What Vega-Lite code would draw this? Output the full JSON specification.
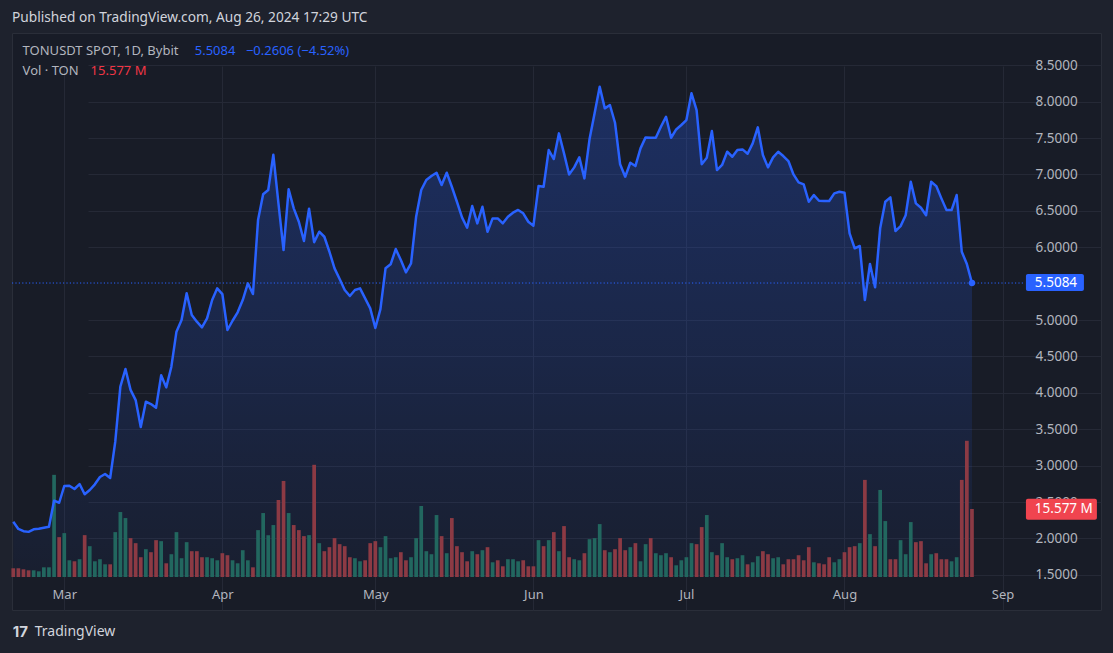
{
  "$schema": "https://vega.github.io/schema/vega-lite/v6.json",
  "width": 1089,
  "height": 577,
  "autosize": {"type": "none"},
  "padding": {"left": 12, "top": 33, "right": 12, "bottom": 43},
  "background": "#1e222d",
  "config": {
    "font": "Noto Sans",
    "view": {"fill": "#181c27", "stroke": "#2a2e39", "strokeWidth": 1},
    "text": {"font": "Noto Sans"}
  },
  "title": {
    "text": "Published on TradingView.com, Aug 26, 2024 17:29 UTC",
    "anchor": "start",
    "frame": "group",
    "baseline": "alphabetic",
    "offset": 10,
    "dy": 13,
    "fontSize": 13.7,
    "fontWeight": "normal",
    "color": "#d1d4dc",
    "font": "Noto Sans"
  },
  "datasets": {
    "ton": [
      {"date":"2024-02-20","close":2.230,"volume":2.00,"dir":"down"},
      {"date":"2024-02-21","close":2.130,"volume":2.00,"dir":"down"},
      {"date":"2024-02-22","close":2.100,"volume":1.76,"dir":"down"},
      {"date":"2024-02-23","close":2.090,"volume":1.53,"dir":"down"},
      {"date":"2024-02-24","close":2.125,"volume":1.53,"dir":"up"},
      {"date":"2024-02-25","close":2.133,"volume":1.30,"dir":"up"},
      {"date":"2024-02-26","close":2.147,"volume":2.22,"dir":"up"},
      {"date":"2024-02-27","close":2.161,"volume":2.22,"dir":"up"},
      {"date":"2024-02-28","close":2.518,"volume":23.40,"dir":"up"},
      {"date":"2024-02-29","close":2.490,"volume":9.13,"dir":"down"},
      {"date":"2024-03-01","close":2.720,"volume":10.05,"dir":"up"},
      {"date":"2024-03-02","close":2.724,"volume":3.83,"dir":"up"},
      {"date":"2024-03-03","close":2.679,"volume":3.60,"dir":"down"},
      {"date":"2024-03-04","close":2.747,"volume":4.07,"dir":"up"},
      {"date":"2024-03-05","close":2.606,"volume":9.59,"dir":"down"},
      {"date":"2024-03-06","close":2.665,"volume":7.06,"dir":"up"},
      {"date":"2024-03-07","close":2.743,"volume":3.60,"dir":"up"},
      {"date":"2024-03-08","close":2.843,"volume":4.07,"dir":"up"},
      {"date":"2024-03-09","close":2.885,"volume":2.91,"dir":"up"},
      {"date":"2024-03-10","close":2.830,"volume":2.91,"dir":"down"},
      {"date":"2024-03-11","close":3.329,"volume":10.28,"dir":"up"},
      {"date":"2024-03-12","close":4.084,"volume":14.88,"dir":"up"},
      {"date":"2024-03-13","close":4.327,"volume":13.50,"dir":"up"},
      {"date":"2024-03-14","close":4.040,"volume":8.90,"dir":"down"},
      {"date":"2024-03-15","close":3.900,"volume":7.75,"dir":"down"},
      {"date":"2024-03-16","close":3.530,"volume":4.53,"dir":"down"},
      {"date":"2024-03-17","close":3.878,"volume":6.37,"dir":"up"},
      {"date":"2024-03-18","close":3.846,"volume":5.68,"dir":"down"},
      {"date":"2024-03-19","close":3.796,"volume":8.44,"dir":"down"},
      {"date":"2024-03-20","close":4.240,"volume":8.21,"dir":"up"},
      {"date":"2024-03-21","close":4.075,"volume":3.14,"dir":"down"},
      {"date":"2024-03-22","close":4.359,"volume":5.22,"dir":"up"},
      {"date":"2024-03-23","close":4.840,"volume":10.28,"dir":"up"},
      {"date":"2024-03-24","close":5.000,"volume":4.30,"dir":"up"},
      {"date":"2024-03-25","close":5.367,"volume":7.98,"dir":"up"},
      {"date":"2024-03-26","close":5.069,"volume":5.91,"dir":"down"},
      {"date":"2024-03-27","close":4.977,"volume":5.91,"dir":"down"},
      {"date":"2024-03-28","close":4.900,"volume":4.53,"dir":"down"},
      {"date":"2024-03-29","close":5.023,"volume":4.53,"dir":"up"},
      {"date":"2024-03-30","close":5.275,"volume":4.30,"dir":"up"},
      {"date":"2024-03-31","close":5.435,"volume":3.83,"dir":"up"},
      {"date":"2024-04-01","close":5.357,"volume":5.45,"dir":"down"},
      {"date":"2024-04-02","close":4.863,"volume":4.99,"dir":"down"},
      {"date":"2024-04-03","close":4.990,"volume":3.83,"dir":"up"},
      {"date":"2024-04-04","close":5.106,"volume":3.14,"dir":"up"},
      {"date":"2024-04-05","close":5.275,"volume":6.14,"dir":"up"},
      {"date":"2024-04-06","close":5.504,"volume":3.83,"dir":"up"},
      {"date":"2024-04-07","close":5.357,"volume":2.22,"dir":"down"},
      {"date":"2024-04-08","close":6.373,"volume":10.74,"dir":"up"},
      {"date":"2024-04-09","close":6.727,"volume":14.65,"dir":"up"},
      {"date":"2024-04-10","close":6.786,"volume":9.59,"dir":"up"},
      {"date":"2024-04-11","close":7.270,"volume":11.90,"dir":"up"},
      {"date":"2024-04-12","close":6.603,"volume":17.64,"dir":"down"},
      {"date":"2024-04-13","close":5.961,"volume":22.00,"dir":"down"},
      {"date":"2024-04-14","close":6.795,"volume":14.65,"dir":"up"},
      {"date":"2024-04-15","close":6.534,"volume":11.90,"dir":"down"},
      {"date":"2024-04-16","close":6.350,"volume":10.74,"dir":"down"},
      {"date":"2024-04-17","close":6.085,"volume":9.36,"dir":"down"},
      {"date":"2024-04-18","close":6.530,"volume":9.59,"dir":"up"},
      {"date":"2024-04-19","close":6.070,"volume":25.70,"dir":"down"},
      {"date":"2024-04-20","close":6.213,"volume":7.75,"dir":"up"},
      {"date":"2024-04-21","close":6.144,"volume":5.91,"dir":"down"},
      {"date":"2024-04-22","close":5.938,"volume":6.83,"dir":"down"},
      {"date":"2024-04-23","close":5.710,"volume":8.90,"dir":"down"},
      {"date":"2024-04-24","close":5.563,"volume":7.52,"dir":"down"},
      {"date":"2024-04-25","close":5.412,"volume":7.06,"dir":"down"},
      {"date":"2024-04-26","close":5.330,"volume":4.53,"dir":"down"},
      {"date":"2024-04-27","close":5.412,"volume":4.30,"dir":"up"},
      {"date":"2024-04-28","close":5.435,"volume":3.60,"dir":"up"},
      {"date":"2024-04-29","close":5.298,"volume":3.83,"dir":"down"},
      {"date":"2024-04-30","close":5.160,"volume":7.75,"dir":"down"},
      {"date":"2024-05-01","close":4.890,"volume":8.21,"dir":"down"},
      {"date":"2024-05-02","close":5.150,"volume":6.83,"dir":"up"},
      {"date":"2024-05-03","close":5.710,"volume":9.36,"dir":"up"},
      {"date":"2024-05-04","close":5.765,"volume":4.30,"dir":"up"},
      {"date":"2024-05-05","close":5.975,"volume":4.53,"dir":"up"},
      {"date":"2024-05-06","close":5.824,"volume":5.68,"dir":"down"},
      {"date":"2024-05-07","close":5.655,"volume":3.83,"dir":"down"},
      {"date":"2024-05-08","close":5.778,"volume":4.53,"dir":"up"},
      {"date":"2024-05-09","close":6.420,"volume":8.90,"dir":"up"},
      {"date":"2024-05-10","close":6.786,"volume":16.26,"dir":"up"},
      {"date":"2024-05-11","close":6.923,"volume":5.91,"dir":"up"},
      {"date":"2024-05-12","close":6.978,"volume":5.22,"dir":"up"},
      {"date":"2024-05-13","close":7.024,"volume":14.19,"dir":"up"},
      {"date":"2024-05-14","close":6.855,"volume":9.36,"dir":"down"},
      {"date":"2024-05-15","close":7.024,"volume":5.45,"dir":"up"},
      {"date":"2024-05-16","close":6.831,"volume":13.50,"dir":"down"},
      {"date":"2024-05-17","close":6.625,"volume":7.06,"dir":"down"},
      {"date":"2024-05-18","close":6.410,"volume":5.68,"dir":"down"},
      {"date":"2024-05-19","close":6.268,"volume":3.60,"dir":"down"},
      {"date":"2024-05-20","close":6.566,"volume":5.91,"dir":"up"},
      {"date":"2024-05-21","close":6.328,"volume":5.22,"dir":"down"},
      {"date":"2024-05-22","close":6.556,"volume":6.14,"dir":"up"},
      {"date":"2024-05-23","close":6.213,"volume":6.83,"dir":"down"},
      {"date":"2024-05-24","close":6.396,"volume":3.37,"dir":"up"},
      {"date":"2024-05-25","close":6.396,"volume":3.83,"dir":"down"},
      {"date":"2024-05-26","close":6.328,"volume":2.45,"dir":"down"},
      {"date":"2024-05-27","close":6.420,"volume":4.07,"dir":"up"},
      {"date":"2024-05-28","close":6.475,"volume":4.07,"dir":"up"},
      {"date":"2024-05-29","close":6.512,"volume":3.60,"dir":"up"},
      {"date":"2024-05-30","close":6.466,"volume":3.83,"dir":"down"},
      {"date":"2024-05-31","close":6.350,"volume":2.45,"dir":"down"},
      {"date":"2024-06-01","close":6.296,"volume":2.45,"dir":"down"},
      {"date":"2024-06-02","close":6.840,"volume":8.44,"dir":"up"},
      {"date":"2024-06-03","close":6.831,"volume":7.06,"dir":"down"},
      {"date":"2024-06-04","close":7.335,"volume":8.44,"dir":"up"},
      {"date":"2024-06-05","close":7.212,"volume":10.28,"dir":"down"},
      {"date":"2024-06-06","close":7.564,"volume":5.91,"dir":"up"},
      {"date":"2024-06-07","close":7.289,"volume":11.66,"dir":"down"},
      {"date":"2024-06-08","close":7.000,"volume":4.53,"dir":"down"},
      {"date":"2024-06-09","close":7.097,"volume":4.07,"dir":"up"},
      {"date":"2024-06-10","close":7.234,"volume":3.83,"dir":"up"},
      {"date":"2024-06-11","close":6.946,"volume":5.45,"dir":"down"},
      {"date":"2024-06-12","close":7.482,"volume":8.67,"dir":"up"},
      {"date":"2024-06-13","close":7.840,"volume":8.90,"dir":"up"},
      {"date":"2024-06-14","close":8.205,"volume":12.12,"dir":"up"},
      {"date":"2024-06-15","close":7.908,"volume":6.14,"dir":"down"},
      {"date":"2024-06-16","close":7.954,"volume":5.68,"dir":"up"},
      {"date":"2024-06-17","close":7.710,"volume":6.37,"dir":"down"},
      {"date":"2024-06-18","close":7.140,"volume":8.90,"dir":"down"},
      {"date":"2024-06-19","close":6.969,"volume":6.14,"dir":"down"},
      {"date":"2024-06-20","close":7.161,"volume":6.83,"dir":"up"},
      {"date":"2024-06-21","close":7.115,"volume":7.75,"dir":"down"},
      {"date":"2024-06-22","close":7.358,"volume":3.60,"dir":"up"},
      {"date":"2024-06-23","close":7.509,"volume":7.52,"dir":"up"},
      {"date":"2024-06-24","close":7.504,"volume":8.90,"dir":"down"},
      {"date":"2024-06-25","close":7.504,"volume":5.45,"dir":"up"},
      {"date":"2024-06-26","close":7.655,"volume":4.99,"dir":"up"},
      {"date":"2024-06-27","close":7.792,"volume":5.45,"dir":"up"},
      {"date":"2024-06-28","close":7.504,"volume":4.53,"dir":"down"},
      {"date":"2024-06-29","close":7.618,"volume":2.68,"dir":"up"},
      {"date":"2024-06-30","close":7.679,"volume":3.83,"dir":"up"},
      {"date":"2024-07-01","close":7.747,"volume":4.53,"dir":"up"},
      {"date":"2024-07-02","close":8.114,"volume":7.75,"dir":"up"},
      {"date":"2024-07-03","close":7.885,"volume":7.52,"dir":"down"},
      {"date":"2024-07-04","close":7.140,"volume":11.43,"dir":"down"},
      {"date":"2024-07-05","close":7.230,"volume":14.19,"dir":"up"},
      {"date":"2024-07-06","close":7.596,"volume":5.68,"dir":"up"},
      {"date":"2024-07-07","close":7.060,"volume":4.99,"dir":"down"},
      {"date":"2024-07-08","close":7.130,"volume":7.75,"dir":"up"},
      {"date":"2024-07-09","close":7.312,"volume":4.53,"dir":"up"},
      {"date":"2024-07-10","close":7.243,"volume":4.07,"dir":"down"},
      {"date":"2024-07-11","close":7.335,"volume":4.30,"dir":"up"},
      {"date":"2024-07-12","close":7.344,"volume":4.99,"dir":"up"},
      {"date":"2024-07-13","close":7.285,"volume":2.91,"dir":"down"},
      {"date":"2024-07-14","close":7.426,"volume":3.37,"dir":"up"},
      {"date":"2024-07-15","close":7.647,"volume":4.76,"dir":"up"},
      {"date":"2024-07-16","close":7.267,"volume":5.91,"dir":"down"},
      {"date":"2024-07-17","close":7.097,"volume":5.22,"dir":"down"},
      {"date":"2024-07-18","close":7.234,"volume":4.30,"dir":"up"},
      {"date":"2024-07-19","close":7.312,"volume":4.53,"dir":"up"},
      {"date":"2024-07-20","close":7.253,"volume":2.91,"dir":"down"},
      {"date":"2024-07-21","close":7.184,"volume":4.07,"dir":"down"},
      {"date":"2024-07-22","close":7.000,"volume":4.07,"dir":"down"},
      {"date":"2024-07-23","close":6.891,"volume":4.99,"dir":"down"},
      {"date":"2024-07-24","close":6.863,"volume":3.83,"dir":"down"},
      {"date":"2024-07-25","close":6.625,"volume":6.83,"dir":"down"},
      {"date":"2024-07-26","close":6.717,"volume":3.37,"dir":"up"},
      {"date":"2024-07-27","close":6.639,"volume":3.14,"dir":"down"},
      {"date":"2024-07-28","close":6.635,"volume":2.91,"dir":"down"},
      {"date":"2024-07-29","close":6.635,"volume":4.53,"dir":"down"},
      {"date":"2024-07-30","close":6.740,"volume":3.37,"dir":"up"},
      {"date":"2024-07-31","close":6.762,"volume":4.07,"dir":"up"},
      {"date":"2024-08-01","close":6.749,"volume":5.68,"dir":"down"},
      {"date":"2024-08-02","close":6.190,"volume":6.83,"dir":"down"},
      {"date":"2024-08-03","close":5.985,"volume":7.06,"dir":"down"},
      {"date":"2024-08-04","close":6.017,"volume":7.75,"dir":"up"},
      {"date":"2024-08-05","close":5.275,"volume":22.24,"dir":"down"},
      {"date":"2024-08-06","close":5.770,"volume":9.82,"dir":"up"},
      {"date":"2024-08-07","close":5.449,"volume":7.06,"dir":"down"},
      {"date":"2024-08-08","close":6.260,"volume":19.94,"dir":"up"},
      {"date":"2024-08-09","close":6.625,"volume":12.81,"dir":"up"},
      {"date":"2024-08-10","close":6.685,"volume":4.07,"dir":"down"},
      {"date":"2024-08-11","close":6.222,"volume":4.07,"dir":"down"},
      {"date":"2024-08-12","close":6.290,"volume":8.44,"dir":"up"},
      {"date":"2024-08-13","close":6.440,"volume":5.22,"dir":"up"},
      {"date":"2024-08-14","close":6.900,"volume":12.58,"dir":"up"},
      {"date":"2024-08-15","close":6.603,"volume":7.98,"dir":"down"},
      {"date":"2024-08-16","close":6.543,"volume":8.21,"dir":"down"},
      {"date":"2024-08-17","close":6.440,"volume":3.14,"dir":"down"},
      {"date":"2024-08-18","close":6.900,"volume":5.22,"dir":"up"},
      {"date":"2024-08-19","close":6.840,"volume":5.45,"dir":"down"},
      {"date":"2024-08-20","close":6.671,"volume":4.07,"dir":"down"},
      {"date":"2024-08-21","close":6.510,"volume":4.07,"dir":"down"},
      {"date":"2024-08-22","close":6.510,"volume":3.60,"dir":"up"},
      {"date":"2024-08-23","close":6.717,"volume":4.53,"dir":"up"},
      {"date":"2024-08-24","close":5.938,"volume":22.24,"dir":"down"},
      {"date":"2024-08-25","close":5.769,"volume":31.20,"dir":"down"},
      {"date":"2024-08-26","close":5.5084,"volume":15.577,"dir":"down"}
    ]
  },
  "data": {"name": "ton"},
  "layer": [
    {
      "mark": {
        "type": "area",
        "line": false,
        "color": {
          "gradient": "linear", "x1": 0, "y1": 0, "x2": 0, "y2": 1,
          "stops": [
            {"offset": 0, "color": "rgba(41,98,255,0.28)"},
            {"offset": 1, "color": "rgba(41,98,255,0.04)"}
          ]
        }
      },
      "encoding": {
        "x": {
          "field": "date", "type": "temporal",
          "scale": {
            "type": "utc",
            "nice": false,
            "padding": 0,
            "domain": [
              {"year": 2024, "month": 2, "date": 19, "hours": 18, "utc": true},
              {"year": 2024, "month": 9, "date": 5, "hours": 9, "minutes": 36, "utc": true}
            ],
            "range": [0, 1013]
          },
          "axis": {
            "title": null,
            "orient": "bottom",
            "offset": -33,
            "values": [
              {"year": 2024, "month": 3, "date": 1, "utc": true},
              {"year": 2024, "month": 4, "date": 1, "utc": true},
              {"year": 2024, "month": 5, "date": 1, "utc": true},
              {"year": 2024, "month": 6, "date": 1, "utc": true},
              {"year": 2024, "month": 7, "date": 1, "utc": true},
              {"year": 2024, "month": 8, "date": 1, "utc": true},
              {"year": 2024, "month": 9, "date": 1, "utc": true}
            ],
            "format": "%b",
            "domain": false,
            "ticks": false,
            "tickSize": 0,
            "labelPadding": 17,
            "labelBaseline": "middle",
            "labelFlush": false,
            "labelOverlap": false,
            "labelColor": "#b2b5be",
            "labelFontSize": 13,
            "labelFont": "Noto Sans",
            "grid": true,
            "gridColor": "#252936",
            "gridWidth": 1
          }
        },
        "y": {
          "field": "close", "type": "quantitative",
          "scale": {"domain": [1.47, 8.943], "range": [544, 0], "zero": false, "nice": false},
          "axis": {
            "title": null,
            "orient": "right",
            "offset": -76,
            "values": [1.5, 2, 2.5, 3, 3.5, 4, 4.5, 5, 6, 6.5, 7, 7.5, 8, 8.5],
            "format": ".4f",
            "domain": false,
            "ticks": false,
            "tickSize": 0,
            "labelPadding": 10,
            "labelAlign": "left",
            "labelBaseline": "middle",
            "labelColor": "#b2b5be",
            "labelFontSize": 13.5,
            "labelFont": "Noto Sans",
            "labelOverlap": false,
            "labelFlush": false,
            "grid": true,
            "gridColor": "#252936",
            "gridWidth": 1
          }
        },
        "y2": {"datum": 1.47}
      }
    },
    {
      "layer": [
        {
          "mark": {"type": "bar", "size": 3.7},
          "encoding": {
            "x": {"field": "date", "type": "temporal"},
            "y": {
              "field": "volume", "type": "quantitative",
              "scale": {"domain": [0, 124.6], "range": [544, 0], "nice": false},
              "axis": null
            },
            "color": {
              "field": "dir", "type": "nominal",
              "scale": {"domain": ["up", "down"], "range": ["#22675f", "#8c3a44"]},
              "legend": null
            }
          }
        },
        {
          "data": {"values": [{"label": "15.577 M"}]},
          "mark": {"type": "rect", "color": "#f0444f", "cornerRadius": 2},
          "encoding": {
            "x": {"datum": {"year": 2024, "month": 9, "date": 5, "hours": 14, "utc": true}, "type": "temporal"},
            "x2": {"datum": {"year": 2024, "month": 9, "date": 19, "hours": 12, "utc": true}},
            "y": {"datum": 17.95, "type": "quantitative", "scale": {"domain": [0, 124.6], "range": [544, 0], "nice": false}, "axis": null},
            "y2": {"datum": 13.12}
          }
        },
        {
          "data": {"values": [{"label": "15.577 M"}]},
          "mark": {"type": "text", "color": "#ffffff", "fontSize": 13.5, "align": "left", "baseline": "middle"},
          "encoding": {
            "x": {"datum": {"year": 2024, "month": 9, "date": 7, "hours": 8, "utc": true}, "type": "temporal"},
            "y": {"datum": 15.53, "type": "quantitative", "scale": {"domain": [0, 124.6], "range": [544, 0], "nice": false}, "axis": null},
            "text": {"field": "label"}
          }
        }
      ]
    },
    {
      "layer": [
        {
          "mark": {"type": "line", "color": "#2962ff", "strokeWidth": 2.5, "strokeJoin": "round"},
          "encoding": {
            "x": {"field": "date", "type": "temporal"},
            "y": {"field": "close", "type": "quantitative", "scale": {"domain": [1.47, 8.943], "range": [544, 0], "zero": false, "nice": false}, "axis": null}
          }
        },
        {
          "data": {"values": [{"level": 5.5084}]},
          "mark": {"type": "rule", "color": "#2962ff", "strokeWidth": 1, "strokeDash": [1.2, 2.2]},
          "encoding": {
            "x": {"datum": {"year": 2024, "month": 2, "date": 19, "hours": 18, "utc": true}, "type": "temporal"},
            "x2": {"datum": {"year": 2024, "month": 9, "date": 5, "hours": 9, "minutes": 36, "utc": true}},
            "y": {"field": "level", "type": "quantitative"}
          }
        },
        {
          "transform": [{"filter": "datum.close == 5.5084"}],
          "mark": {"type": "point", "filled": true, "size": 40, "color": "#2962ff", "opacity": 1},
          "encoding": {
            "x": {"field": "date", "type": "temporal"},
            "y": {"field": "close", "type": "quantitative"}
          }
        },
        {
          "data": {"values": [{"label": "5.5084"}]},
          "mark": {"type": "rect", "color": "#2962ff", "cornerRadius": 2},
          "encoding": {
            "x": {"datum": {"year": 2024, "month": 9, "date": 5, "hours": 14, "utc": true}, "type": "temporal"},
            "x2": {"datum": {"year": 2024, "month": 9, "date": 16, "hours": 23, "utc": true}},
            "y": {"datum": 5.632, "type": "quantitative"},
            "y2": {"datum": 5.398}
          }
        },
        {
          "data": {"values": [{"label": "5.5084"}]},
          "mark": {"type": "text", "color": "#ffffff", "fontSize": 13.5, "align": "left", "baseline": "middle"},
          "encoding": {
            "x": {"datum": {"year": 2024, "month": 9, "date": 7, "hours": 8, "utc": true}, "type": "temporal"},
            "y": {"datum": 5.515, "type": "quantitative"},
            "text": {"field": "label"}
          }
        },
        {
          "data": {"values": [
            {"label": "TONUSDT SPOT, 1D, Bybit", "row": 8.695},
            {"label": "Vol · TON", "row": 8.42}
          ]},
          "mark": {"type": "text", "color": "#b2b5be", "fontSize": 13, "align": "left", "baseline": "middle"},
          "encoding": {
            "x": {"datum": {"year": 2024, "month": 2, "date": 21, "hours": 20, "utc": true}, "type": "temporal"},
            "y": {"field": "row", "type": "quantitative"},
            "text": {"field": "label"}
          }
        },
        {
          "data": {"values": [{"label": "5.5084"}]},
          "mark": {"type": "text", "color": "#2962ff", "fontSize": 13, "align": "left", "baseline": "middle"},
          "encoding": {
            "x": {"datum": {"year": 2024, "month": 3, "date": 26, "hours": 14, "utc": true}, "type": "temporal"},
            "y": {"datum": 8.695, "type": "quantitative"},
            "text": {"field": "label"}
          }
        },
        {
          "data": {"values": [{"label": "−0.2606 (−4.52%)"}]},
          "mark": {"type": "text", "color": "#2962ff", "fontSize": 13, "align": "left", "baseline": "middle"},
          "encoding": {
            "x": {"datum": {"year": 2024, "month": 4, "date": 5, "hours": 15, "utc": true}, "type": "temporal"},
            "y": {"datum": 8.695, "type": "quantitative"},
            "text": {"field": "label"}
          }
        },
        {
          "data": {"values": [{"label": "15.577 M"}]},
          "mark": {"type": "text", "color": "#f23645", "fontSize": 13, "align": "left", "baseline": "middle"},
          "encoding": {
            "x": {"datum": {"year": 2024, "month": 3, "date": 6, "hours": 4, "utc": true}, "type": "temporal"},
            "y": {"datum": 8.42, "type": "quantitative"},
            "text": {"field": "label"}
          }
        },
        {
          "data": {"values": [{"label": "17"}]},
          "mark": {"type": "text", "color": "#d1d4dc", "fontSize": 15, "fontWeight": "bold", "align": "left", "baseline": "middle", "font": "Inter"},
          "encoding": {
            "x": {"datum": {"year": 2024, "month": 2, "date": 19, "hours": 22, "utc": true}, "type": "temporal"},
            "y": {"datum": 0.714, "type": "quantitative"},
            "text": {"field": "label"}
          }
        },
        {
          "data": {"values": [{"label": "TradingView"}]},
          "mark": {"type": "text", "color": "#d1d4dc", "fontSize": 14, "align": "left", "baseline": "middle"},
          "encoding": {
            "x": {"datum": {"year": 2024, "month": 2, "date": 24, "hours": 5, "utc": true}, "type": "temporal"},
            "y": {"datum": 0.714, "type": "quantitative"},
            "text": {"field": "label"}
          }
        }
      ]
    }
  ],
  "resolve": {"scale": {"y": "independent"}}
}
